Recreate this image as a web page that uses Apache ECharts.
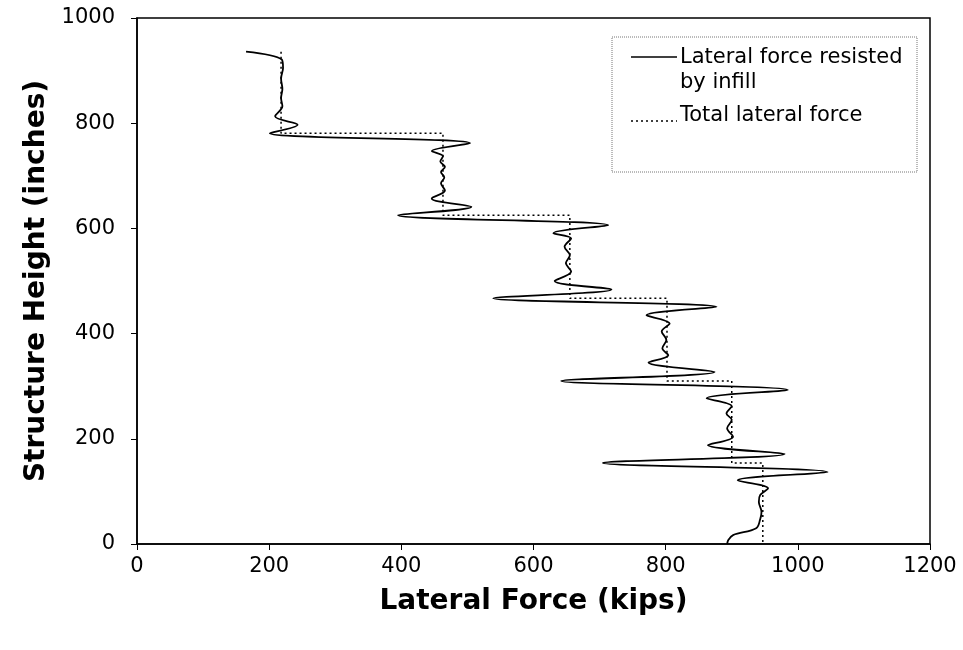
<!DOCTYPE html>
<html>
<head>
<meta charset="utf-8">
<script src="https://cdn.jsdelivr.net/npm/echarts@6/dist/echarts.min.js"></script>
<style>
  html, body { margin: 0; padding: 0; background: #fff; }
  #chart { width: 963px; height: 650px; }
</style>
</head>
<body>
<div id="chart"></div>
<script>
const infillForce = [
  165, 219, 221, 218, 220, 218, 220, 209, 243, 201,
  504, 446, 463, 459, 466, 460, 465, 460, 466, 446, 506, 395,
  713, 630, 657, 647, 655, 649, 657, 632, 718, 539,
  877, 771, 806, 794, 801, 795, 804, 774, 874, 642,
  985, 862, 900, 892, 900, 893, 902, 864, 980, 705,
  1045, 909, 955, 943, 941, 945, 943, 937, 902, 895, 893,
];
const infillHeight = [
  936, 921, 905, 885, 865, 848, 832, 813, 797, 781,
  762, 747, 737, 727, 717, 707, 697, 686, 672, 657, 641, 625,
  606, 591, 581, 565, 549, 534, 518, 500, 484, 467,
  451, 435, 419, 404, 388, 372, 359, 345, 327, 310,
  293, 277, 262, 248, 236, 220, 204, 188, 171, 154,
  137, 121, 106, 93, 80, 61, 47, 30, 17, 8, 0,
];

// total lateral force, one step per storey
const totalForce = [218, 218, 463, 463, 655, 655, 802, 802, 900, 900, 947, 947];
const totalHeight = [936, 781, 781, 625, 625, 467, 467, 310, 310, 154, 154, 0];

const xTicks = { min: 0, max: 1200, step: 200 };
const yTicks = { min: 0, max: 1000, step: 200 };

const legendNames = ['Lateral force resisted\nby infill', 'Total lateral force'];

const FONT = '"DejaVu Sans", "Liberation Sans", sans-serif';

const chart = echarts.init(document.getElementById('chart'));

chart.setOption({
  animation: false,
  backgroundColor: '#fff',
  grid: {
    left: 137, right: 33, top: 18, bottom: 106,
    show: true, borderColor: '#000', borderWidth: 1.5, backgroundColor: 'transparent',
  },
  xAxis: {
    type: 'value',
    min: xTicks.min, max: xTicks.max, interval: xTicks.step,
    name: 'Lateral Force (kips)',
    nameLocation: 'middle',
    nameGap: 44,
    nameTextStyle: { fontFamily: FONT, fontWeight: 'bold', fontSize: 28, color: '#000' },
    axisLine: { lineStyle: { color: '#000', width: 1.5 } },
    axisTick: { show: true, inside: false, length: 6, lineStyle: { color: '#000' } },
    axisLabel: { fontFamily: FONT, fontSize: 21, color: '#000', margin: 12, formatter: (v) => String(v) },
    splitLine: { show: false },
  },
  yAxis: {
    type: 'value',
    min: yTicks.min, max: yTicks.max, interval: yTicks.step,
    name: 'Structure Height (inches)',
    nameLocation: 'middle',
    nameGap: 76,
    nameTextStyle: { fontFamily: FONT, fontWeight: 'bold', fontSize: 28, color: '#000' },
    axisLine: { lineStyle: { color: '#000', width: 1.5 } },
    axisTick: { show: true, inside: false, length: 6, lineStyle: { color: '#000' } },
    axisLabel: { fontFamily: FONT, fontSize: 21, color: '#000', margin: 22, formatter: (v) => String(v) },
    splitLine: { show: false },
  },
  series: [
    {
      name: legendNames[0],
      type: 'line',
      data: infillForce.map((f, i) => [f, infillHeight[i]]),
      smooth: 0.35,
      showSymbol: false,
      lineStyle: { color: '#000', width: 1.8 },
      z: 3,
    },
    {
      name: legendNames[1],
      type: 'line',
      data: totalForce.map((f, i) => [f, totalHeight[i]]),
      showSymbol: false,
      lineStyle: { color: '#000', width: 1.5, type: [2, 3] },
      z: 2,
    },
  ],
  // legend box drawn by hand so the sample sits on the first text line
  graphic: [
    {
      type: 'rect',
      shape: { x: 612, y: 37, width: 305, height: 135 },
      style: { fill: '#fff', stroke: '#777', lineWidth: 1, lineDash: [1, 1] },
      z: 10,
    },
    {
      type: 'line',
      shape: { x1: 631, y1: 57, x2: 677, y2: 57 },
      style: { stroke: '#000', lineWidth: 1.5 },
      z: 11,
    },
    {
      type: 'text',
      x: 680, y: 45,
      style: { text: legendNames[0], font: '21px ' + FONT, fill: '#000', lineHeight: 25, verticalAlign: 'top' },
      z: 11,
    },
    {
      type: 'line',
      shape: { x1: 631, y1: 121, x2: 677, y2: 121 },
      style: { stroke: '#000', lineWidth: 1.5, lineDash: [2, 3] },
      z: 11,
    },
    {
      type: 'text',
      x: 680, y: 116,
      style: { text: legendNames[1], font: '21px ' + FONT, fill: '#000', verticalAlign: 'middle' },
      z: 11,
    },
  ],
});
</script>
</body>
</html>
